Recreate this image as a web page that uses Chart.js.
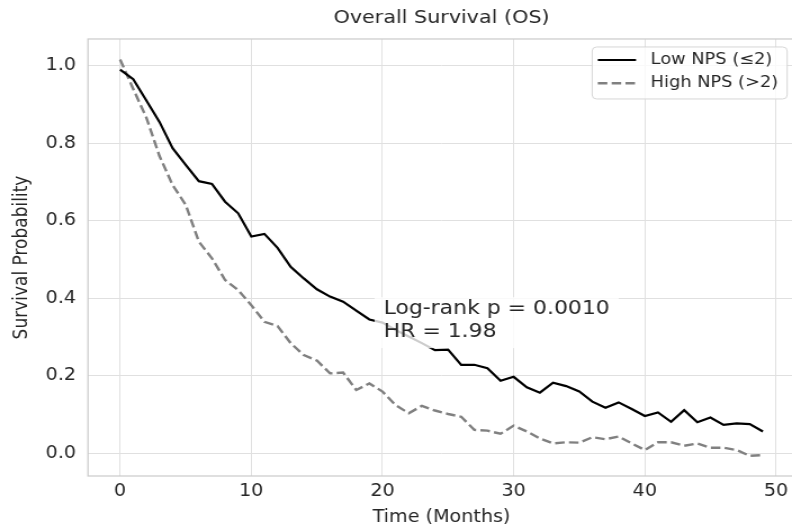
<!DOCTYPE html>
<html lang="en">
  <head>
    <meta charset="UTF-8" />
    <title>Overall Survival (OS)</title>
    <script src="https://cdn.jsdelivr.net/npm/chart.js"></script>
    <style>
      html,
      body {
        margin: 0;
        padding: 0;
        background: #ffffff;
        overflow: hidden;
      }
      /* the source figure was squeezed vertically, so text looks wide */
      #wrap {
        width: 710px;
        height: 529px;
        transform: scaleX(1.125);
        transform-origin: 0 0;
      }
    </style>
  </head>
  <body>
    <div id="wrap"><canvas id="osChart" width="710" height="529"></canvas></div>

    <script>
      const chartTitle = "Overall Survival (OS)";
      const xTitle = "Time (Months)";
      const yTitle = "Survival Probability";
      const seriesNames = ["Low NPS (\u22642)", "High NPS (>2)"];
      const annotationLines = ["Log-rank p = 0.0010", "HR = 1.98"];

      const months = [
        0, 1, 2, 3, 4, 5, 6, 7, 8, 9, 10, 11, 12, 13, 14, 15, 16, 17, 18, 19,
        20, 21, 22, 23, 24, 25, 26, 27, 28, 29, 30, 31, 32, 33, 34, 35, 36, 37,
        38, 39, 40, 41, 42, 43, 44, 45, 46, 47, 48, 49,
      ];
      const lowNPS = [
        0.99, 0.965, 0.91, 0.855, 0.787, 0.744, 0.702, 0.695, 0.649, 0.619,
        0.559, 0.566, 0.53, 0.481, 0.451, 0.423, 0.404, 0.391, 0.368, 0.345,
        0.337, 0.318, 0.301, 0.284, 0.266, 0.267, 0.228, 0.228, 0.219, 0.187,
        0.197, 0.17, 0.156, 0.182, 0.173, 0.159, 0.133, 0.117, 0.131, 0.114,
        0.096, 0.105, 0.081, 0.111, 0.08, 0.092, 0.073, 0.077, 0.075, 0.056,
      ];
      const highNPS = [
        1.016, 0.94, 0.866, 0.767, 0.692, 0.641, 0.546, 0.503, 0.447, 0.421,
        0.382, 0.339, 0.328, 0.284, 0.253, 0.239, 0.206, 0.208, 0.163, 0.18,
        0.159, 0.124, 0.103, 0.122, 0.11, 0.101, 0.094, 0.06, 0.058, 0.05,
        0.071, 0.056, 0.038, 0.025, 0.028, 0.027, 0.041, 0.036, 0.043, 0.025,
        0.008, 0.028, 0.028, 0.019, 0.025, 0.014, 0.014, 0.008, -0.007, -0.005,
      ];

      const FONT = "'DejaVu Sans', sans-serif";
      const TEXT = "#262626";
      const GRID = "#e0e0e0";

      const lineColors = ["#000000", "#808080"];
      const lineDashes = [[], [8.5, 3.8]];

      // frame, annotation box and legend drawn on top of the chart area
      const overlay = {
        id: "overlay",
        beforeDatasetsDraw(chart) {
          const { ctx, chartArea: a } = chart;
          ctx.save();
          ctx.strokeStyle = "#cccccc";
          ctx.lineWidth = 1.25;
          ctx.strokeRect(a.left, a.top, a.right - a.left, a.bottom - a.top);
          ctx.restore();
        },
        afterDatasetsDraw(chart) {
          const { ctx, chartArea: a, scales } = chart;
          ctx.save();

          // log-rank annotation
          const tx = scales.x.getPixelForValue(20) + 1;
          const base2 = scales.y.getPixelForValue(0.3) + 0.5;
          const base1 = base2 - 23;
          ctx.font = "19.5px " + FONT;
          const tw = Math.max(...annotationLines.map((t) => ctx.measureText(t).width));
          ctx.fillStyle = "rgba(255,255,255,0.8)";
          ctx.fillRect(tx - 8, base1 - 17.3, tw + 16, base2 - base1 + 28);
          ctx.fillStyle = TEXT;
          ctx.textBaseline = "alphabetic";
          ctx.fillText(annotationLines[0], tx, base1);
          ctx.fillText(annotationLines[1], tx, base2);

          // legend
          ctx.font = "15.8px " + FONT;
          const lw = Math.max(...seriesNames.map((t) => ctx.measureText(t).width));
          const bw = 5 + 34 + 13 + lw + 8;
          const bx = a.right - 7 - bw;
          const by = a.top + 8;
          const bh = 52;
          ctx.beginPath();
          ctx.roundRect(bx, by, bw, bh, 4);
          ctx.fillStyle = "rgba(255,255,255,0.8)";
          ctx.fill();
          ctx.strokeStyle = "#d6d6d6";
          ctx.lineWidth = 1;
          ctx.stroke();
          seriesNames.forEach((name, i) => {
            const cy = by + 13 + i * 23.3;
            ctx.beginPath();
            ctx.setLineDash(lineDashes[i]);
            ctx.strokeStyle = lineColors[i];
            ctx.lineWidth = i === 0 ? 2.2 : 2.4;
            ctx.moveTo(bx + 5, cy);
            ctx.lineTo(bx + 39, cy);
            ctx.stroke();
            ctx.setLineDash([]);
            ctx.fillStyle = TEXT;
            ctx.textBaseline = "middle";
            ctx.fillText(name, bx + 52, cy);
          });
          ctx.restore();
        },
      };

      const ctx = document.getElementById("osChart").getContext("2d");
      new Chart(ctx, {
        type: "line",
        data: {
          datasets: [
            {
              label: seriesNames[0],
              data: months.map((m, i) => ({ x: m, y: lowNPS[i] })),
              borderColor: lineColors[0],
              borderWidth: 2.2,
              borderDash: lineDashes[0],
              pointRadius: 0,
              tension: 0,
              fill: false,
            },
            {
              label: seriesNames[1],
              data: months.map((m, i) => ({ x: m, y: highNPS[i] })),
              borderColor: lineColors[1],
              borderWidth: 2.4,
              borderDash: lineDashes[1],
              pointRadius: 0,
              tension: 0,
              fill: false,
            },
          ],
        },
        options: {
          responsive: false,
          animation: false,
          layout: { padding: { left: 0, right: 3.3, top: 0, bottom: 0 } },
          plugins: {
            legend: { display: false },
            tooltip: { enabled: false },
            title: {
              display: true,
              text: chartTitle,
              fullSize: false,
              color: TEXT,
              font: { family: FONT, size: 18.4, weight: "normal" },
              padding: { top: 7, bottom: 9.9 },
            },
          },
          scales: {
            x: {
              type: "linear",
              min: -2.45,
              max: 51.45,
              afterFit: (s) => {
                s.height = 53;
              },
              ticks: {
                stepSize: 10,
                includeBounds: false,
                maxRotation: 0,
                padding: 5,
                color: TEXT,
                font: { family: FONT, size: 17 },
              },
              grid: { color: GRID, lineWidth: 1, drawTicks: false },
              border: { display: false },
              title: {
                display: true,
                text: xTitle,
                color: TEXT,
                font: { family: FONT, size: 17 },
                padding: { top: 0, bottom: 0.8 },
              },
            },
            y: {
              min: -0.059,
              max: 1.069,
              afterFit: (s) => {
                s.width = 78.2;
              },
              ticks: {
                stepSize: 0.2,
                includeBounds: false,
                padding: 10.6,
                color: TEXT,
                font: { family: FONT, size: 17 },
                callback: (v) => (Math.abs(v) < 1e-9 ? 0 : v).toFixed(1),
              },
              grid: { color: GRID, lineWidth: 1, drawTicks: false },
              border: { display: false },
              title: {
                display: true,
                text: yTitle,
                color: TEXT,
                font: { family: FONT, size: 17 },
                padding: { top: 9.4, bottom: 0 },
              },
            },
          },
        },
        plugins: [overlay],
      });
    </script>
  </body>
</html>
